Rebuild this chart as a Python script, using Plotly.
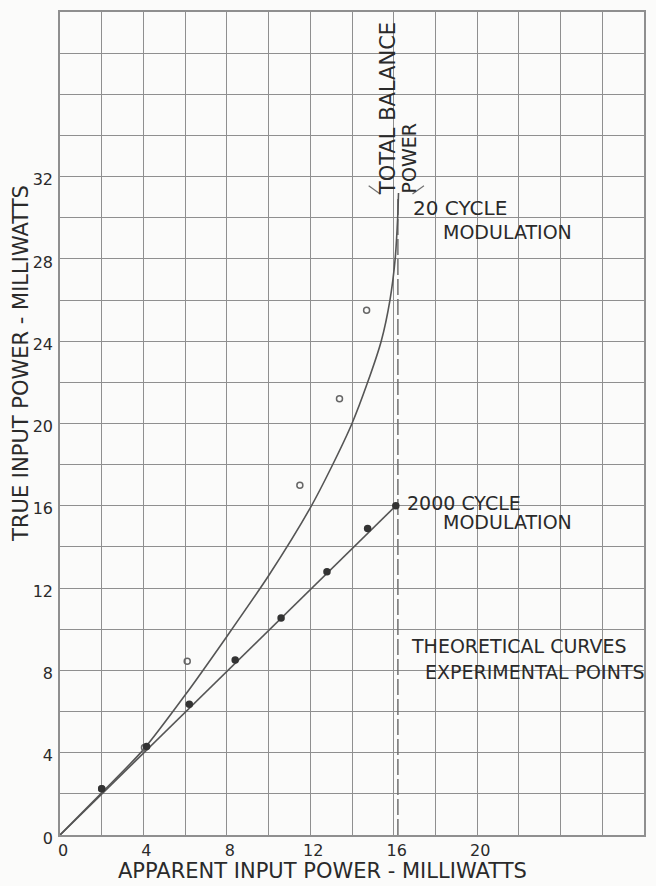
import plotly.graph_objects as go

# ---- data ----
X_TICKS = [0, 4, 8, 12, 16, 20]
Y_TICKS = [0, 4, 8, 12, 16, 20, 24, 28, 32]
X_RANGE = [0, 28]
Y_RANGE = [0, 40]
GRID_STEP = 2

theory20_x = [0, 2, 4, 6, 8, 10, 12, 13, 14, 14.75, 15.4, 15.82, 16.07, 16.19, 16.23]
theory20_y = [0, 2.05, 4.15, 6.8, 9.65, 12.6, 15.9, 17.85, 20.0, 22.0, 24.0, 26.0, 28.0, 30.0, 31.2]

theory2000_x = [0, 16.1]
theory2000_y = [0, 16.0]

exp20_x = [2.0, 4.05, 6.1, 11.5, 13.4, 14.7]
exp20_y = [2.25, 4.25, 8.45, 17.0, 21.2, 25.5]

exp2000_x = [2.0, 4.15, 6.2, 8.4, 10.6, 12.8, 14.75, 16.1]
exp2000_y = [2.25, 4.3, 6.35, 8.5, 10.55, 12.8, 14.9, 16.0]

BALANCE_POWER = 16.2
BALANCE_TOP = 31.0

INK = "#2a2a2a"
LINE = "#555555"
GRID = "#8f8f8f"
PAPER = "#fbfbfa"
FONT = "DejaVu Sans"

fig = go.Figure()

# total balance power dashed line
fig.add_trace(go.Scatter(
    x=[BALANCE_POWER, BALANCE_POWER], y=[0, BALANCE_TOP],
    mode="lines", line=dict(color="#707070", width=1.5, dash="16px,4px"),
    hoverinfo="skip"))

# chevron arms at top of the balance line
fig.add_trace(go.Scatter(
    x=[BALANCE_POWER - 1.4, BALANCE_POWER - 0.85, None, BALANCE_POWER + 1.25, BALANCE_POWER + 0.7],
    y=[BALANCE_TOP + 0.55, BALANCE_TOP + 0.15, None, BALANCE_TOP + 0.55, BALANCE_TOP + 0.15],
    mode="lines", line=dict(color="#707070", width=1.2), hoverinfo="skip"))

# theoretical curves
fig.add_trace(go.Scatter(
    x=theory20_x, y=theory20_y, mode="lines",
    line=dict(color=LINE, width=1.6, shape="spline", smoothing=0.7),
    name="20 cycle theory"))
fig.add_trace(go.Scatter(
    x=theory2000_x, y=theory2000_y, mode="lines",
    line=dict(color=LINE, width=1.6), name="2000 cycle theory"))

# experimental points
fig.add_trace(go.Scatter(
    x=exp20_x, y=exp20_y, mode="markers",
    marker=dict(symbol="circle-open", size=6, color="#666666", line=dict(width=1.5)),
    name="20 cycle exp"))
fig.add_trace(go.Scatter(
    x=exp2000_x, y=exp2000_y, mode="markers",
    marker=dict(symbol="circle", size=7.5, color="#333333"),
    name="2000 cycle exp"))

axis_common = dict(
    showline=True, mirror=True, linecolor=GRID, linewidth=1.5,
    showgrid=True, gridcolor=GRID, gridwidth=1.3,
    zeroline=False, ticks="", ticklen=0,
    tickfont=dict(family=FONT, size=16, color=INK),
    minor=dict(dtick=GRID_STEP, showgrid=True, gridcolor=GRID, gridwidth=1.3),
    fixedrange=True,
)

fig.update_xaxes(range=X_RANGE, tickmode="array", tickvals=X_TICKS,
                 ticktext=[str(v) for v in X_TICKS], ticklabelshift=3, **axis_common)
fig.update_yaxes(range=Y_RANGE, tickmode="array", tickvals=Y_TICKS,
                 ticktext=[str(v) for v in Y_TICKS], ticklabelstandoff=2,
                 ticklabelshift=3, **axis_common)

ann_font = dict(family=FONT, size=19, color=INK)
annotations = [
    dict(text="APPARENT INPUT POWER - MILLIWATTS", xref="paper", yref="paper",
         x=0.45, y=-0.044, xanchor="center", yanchor="middle", showarrow=False,
         font=dict(family=FONT, size=21, color=INK)),
    dict(text="TRUE INPUT POWER - MILLIWATTS", xref="paper", yref="paper",
         x=-0.066, y=0.573, xanchor="center", yanchor="middle", showarrow=False,
         textangle=-90, font=dict(family=FONT, size=21, color=INK)),
    dict(text="TOTAL BALANCE", x=15.7, y=35.3, textangle=-90, showarrow=False,
         xanchor="center", yanchor="middle", font=dict(family=FONT, size=21, color=INK)),
    dict(text="POWER", x=16.75, y=32.9, textangle=-90, showarrow=False,
         xanchor="center", yanchor="middle", font=ann_font),
    dict(text="20 CYCLE", x=16.85, y=30.45, xanchor="left", yanchor="middle",
         showarrow=False, font=dict(family=FONT, size=20, color=INK)),
    dict(text="MODULATION", x=18.25, y=29.3, xanchor="left", yanchor="middle",
         showarrow=False, font=ann_font),
    dict(text="2000 CYCLE", x=16.55, y=16.15, xanchor="left", yanchor="middle",
         showarrow=False, font=ann_font),
    dict(text="MODULATION", x=18.25, y=15.2, xanchor="left", yanchor="middle",
         showarrow=False, font=ann_font),
    dict(text="THEORETICAL CURVES", x=16.75, y=9.2, xanchor="left", yanchor="middle",
         showarrow=False, font=ann_font),
    dict(text="EXPERIMENTAL POINTS", x=17.4, y=7.9, xanchor="left", yanchor="middle",
         showarrow=False, font=ann_font),
]

fig.update_layout(
    width=656, height=886,
    margin=dict(l=60, r=11, t=10, b=51),
    paper_bgcolor=PAPER, plot_bgcolor=PAPER,
    showlegend=False,
    annotations=annotations,
)

fig.write_html("out.html", config={"displayModeBar": False},
               post_script="document.body.style.margin='0';document.body.style.overflow='hidden';")
